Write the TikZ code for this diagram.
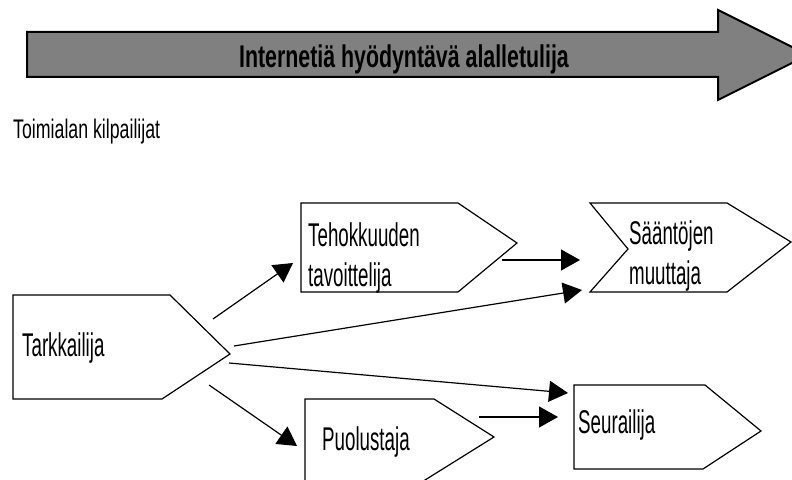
\documentclass[tikz,border=0pt]{standalone}
\usepackage{fontspec}
\usetikzlibrary{arrows.meta}
\newfontfamily\condfont[FakeStretch=0.57]{Liberation Sans}
\newfontfamily\condsmall[FakeStretch=0.66]{Liberation Sans}
\newfontfamily\condbold[FakeStretch=0.68]{Liberation Sans Bold}
\definecolor{bandgray}{HTML}{808080}
\tikzset{
  box/.style={draw=black, line width=1.2bp, line join=miter, fill=white},
  band/.style={draw=black, line width=2bp, fill=bandgray},
  lbl/.style={anchor=base west, inner sep=0pt, align=left,
    font=\condfont\fontsize{33}{41}\selectfont},
  link/.style={draw=black, line width=1.2bp,
    -{Triangle[length=19bp,width=21bp]}}
}
\begin{document}
\begin{tikzpicture}[x=1bp, y=-1bp]
\useasboundingbox (0,0) rectangle (792,480);
\clip (0,0) rectangle (792,480);

% wide grey arrow along the top
\path[band] (27,32) -- (718,32) -- (718,10) -- (808,55) -- (718,100)
  -- (718,77) -- (27,77) -- cycle;
\node[anchor=base, inner sep=0pt,
  font=\condbold\fontsize{31.5}{36}\selectfont] (title) at (404,68)
  {Internetiä hyödyntävä alalletulija};

\node[anchor=base west, inner sep=0pt,
  font=\condsmall\fontsize{27}{32}\selectfont] (group) at (13,139)
  {Toimialan kilpailijat};

% pentagon boxes
\path[box] (13,295) -- (170,295) -- (230,354) -- (162,399) -- (13,399) -- cycle;
\path[box] (301,203) -- (458,203) -- (517,243) -- (458,292) -- (301,292) -- cycle;
\path[box] (590,203) -- (727,203) -- (791,242) -- (727,292) -- (590,292)
  -- (628,249) -- cycle;
\path[box] (305,399) -- (434,399) -- (494,437) -- (409,490) -- (305,490) -- cycle;
\path[box] (574,385) -- (705,385) -- (761,431) -- (703,469) -- (574,469) -- cycle;

% box labels (base anchor sits on the last line)
\node[lbl] (tark) at (22,356) {Tarkkailija};
\node[lbl] (teho) at (308,287) {Tehokkuuden\\tavoittelija};
\node[lbl] (saan) at (629,285) {Sääntöjen\\muuttaja};
\node[lbl] (puol) at (322,450) {Puolustaja};
\node[lbl] (seur) at (578,433) {Seurailija};

% connector end points
\coordinate (tark-a) at (213,319);
\coordinate (tark-b) at (234,346);
\coordinate (tark-c) at (229,363);
\coordinate (tark-d) at (209,385);
\coordinate (teho-in) at (293,263);
\coordinate (teho-out) at (502,260);
\coordinate (saan-in1) at (580,260);
\coordinate (saan-in2) at (582,290);
\coordinate (seur-in1) at (568,393);
\coordinate (seur-in2) at (558,417);
\coordinate (puol-in) at (297,446);
\coordinate (puol-out) at (479,417);

% connectors
\draw[link] (tark-a) -- (teho-in);
\draw[link] (tark-b) -- (saan-in2);
\draw[link] (tark-c) -- (seur-in1);
\draw[link] (tark-d) -- (puol-in);
\draw[link] (teho-out) -- (saan-in1);
\draw[link] (puol-out) -- (seur-in2);
\end{tikzpicture}
\end{document}
